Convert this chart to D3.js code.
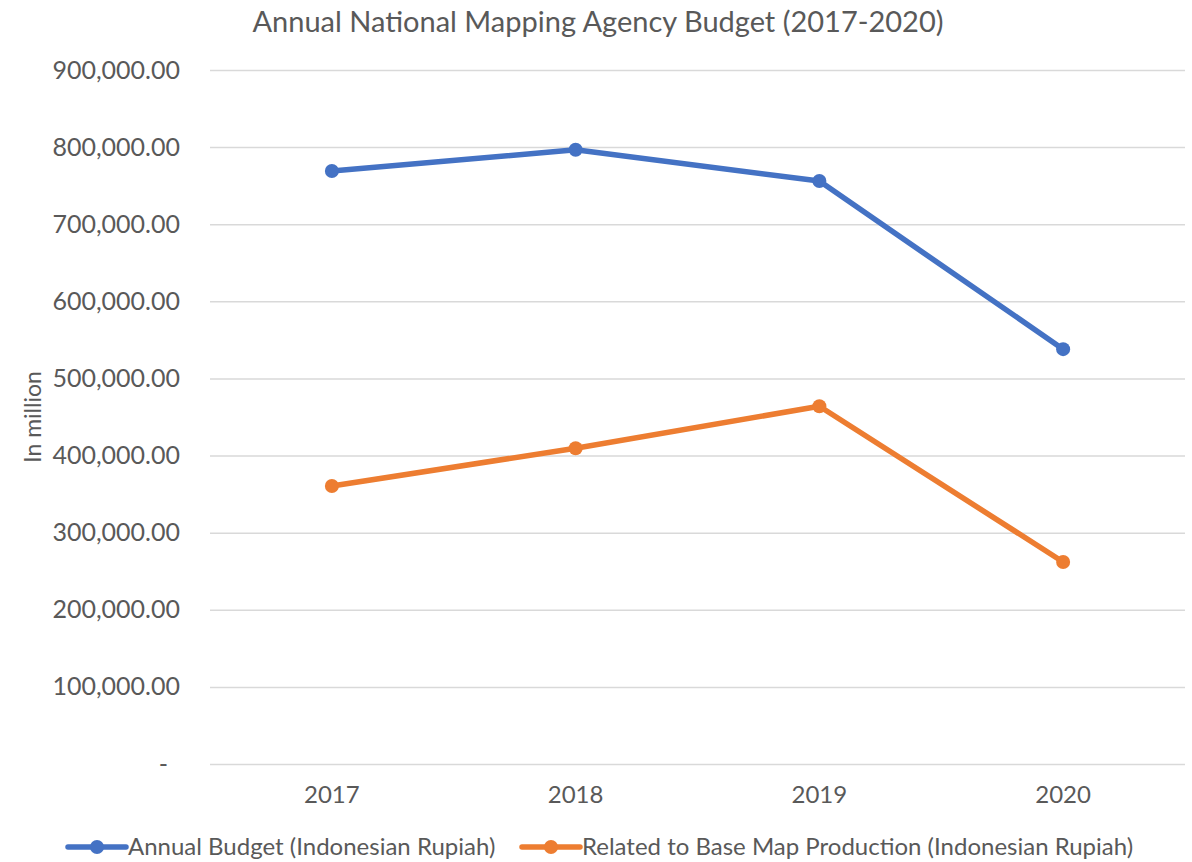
<!DOCTYPE html>
<html><head><meta charset="utf-8">
<script src="https://cdn.jsdelivr.net/npm/d3@7"></script>
<style>body{margin:0;background:#fff}text{font-family:Lato,"Open Sans",sans-serif;fill:#595959}</style>
</head><body><svg id="c" width="1192" height="862"></svg>
<script>
const years = ["2017","2018","2019","2020"];
const annualBudget = [769000, 796500, 756000, 538000];
const baseMap = [360500, 409500, 464000, 262000];
const yTicks = [0,100000,200000,300000,400000,500000,600000,700000,800000,900000];
const seriesNames = ["Annual Budget (Indonesian Rupiah)", "Related to Base Map Production (Indonesian Rupiah)"];
const colors = ["#4472c4", "#ed7d31"];

const svg = d3.select("#c");
const L = 210, R = 1185, T = 70, B = 764;
const x = d3.scaleBand().domain(years).range([L, R]);
const y = d3.scaleLinear().domain([0, 900000]).range([B, T]);
const fmt = d3.format(",.2f");

svg.append("text").attr("x", 598).attr("y", 32).attr("text-anchor","middle")
  .style("font-size","29px").text("Annual National Mapping Agency Budget (2017-2020)");

const ga = svg.append("g").attr("transform",`translate(${L},0)`)
  .call(d3.axisLeft(y).tickValues(yTicks).tickSize(-(R-L)).tickPadding(30)
    .tickFormat(d => d === 0 ? "-" : fmt(d)));
ga.select(".domain").remove();
ga.selectAll(".tick line").attr("stroke","#d9d9d9").attr("stroke-width",1.5);
ga.selectAll(".tick text").style("font-size","25px").attr("fill","#595959").attr("x",-30);
ga.selectAll(".tick").filter(d=>d===0).select("text").attr("x",-42);

const gx = svg.append("g").attr("transform",`translate(0,${B})`)
  .call(d3.axisBottom(x).tickSize(0).tickPadding(22));
gx.select(".domain").remove();
gx.selectAll(".tick text").style("font-size","24px").attr("fill","#595959");

svg.append("text").attr("transform","translate(41,417) rotate(-90)").attr("text-anchor","middle")
  .style("font-size","23px").text("In million");

const series = [annualBudget, baseMap];
const line = d3.line().x((d,i)=>x(years[i])+x.bandwidth()/2).y(d=>y(d));
series.forEach((s,k)=>{
  svg.append("path").datum(s).attr("d",line).attr("fill","none")
    .attr("stroke",colors[k]).attr("stroke-width",5.5).attr("stroke-linejoin","round");
  svg.selectAll(null).data(s).enter().append("circle")
    .attr("cx",(d,i)=>x(years[i])+x.bandwidth()/2).attr("cy",d=>y(d)).attr("r",7).attr("fill",colors[k]);
});

const legX = [68, 522];
seriesNames.forEach((n,k)=>{
  const g = svg.append("g").attr("transform",`translate(${legX[k]},847)`);
  g.append("line").attr("x1",0).attr("x2",58).attr("stroke",colors[k]).attr("stroke-width",5.5).attr("stroke-linecap","round");
  g.append("circle").attr("cx",29).attr("r",7).attr("fill",colors[k]);
  g.append("text").attr("x",60).attr("dy","0.35em").style("font-size","24px").text(n);
});
</script></body></html>
